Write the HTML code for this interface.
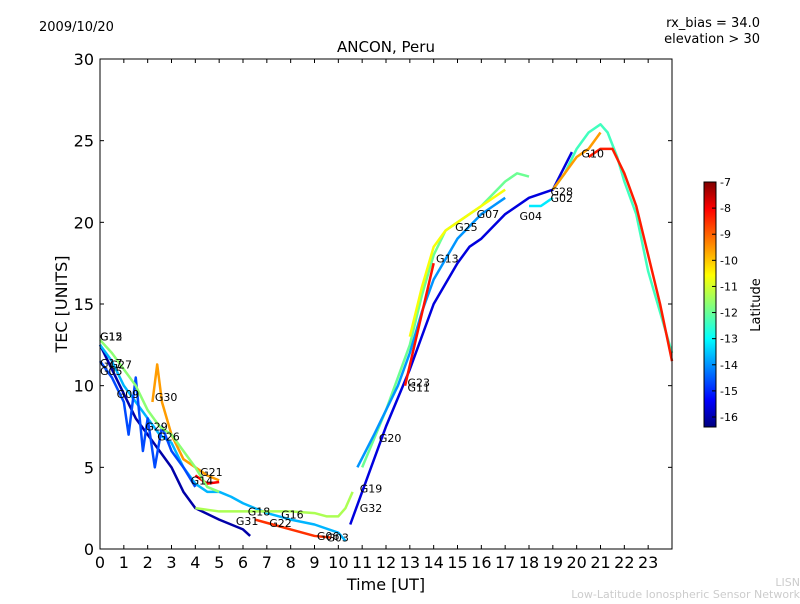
<!DOCTYPE html>
<html><head><meta charset="utf-8">
<style>
body{margin:0;background:#fff;font-family:"DejaVu Sans","Liberation Sans",sans-serif;}
svg text{font-family:"DejaVu Sans","Liberation Sans",sans-serif;}
</style></head>
<body>
<svg id="chart" width="800" height="600" xmlns="http://www.w3.org/2000/svg">
<rect width="800" height="600" fill="#fff"/>
<text x="39" y="31" font-size="13">2009/10/20</text>
<text x="760" y="27" font-size="13" text-anchor="end">rx_bias = 34.0</text>
<text x="760" y="43" font-size="13" text-anchor="end">elevation &gt; 30</text>
<text x="386" y="52" font-size="15" text-anchor="middle">ANCON, Peru</text>
<g id="plot"></g>
<rect x="100" y="59" width="572" height="490" fill="none" stroke="#000" stroke-width="1"/>
<g id="axes"></g>
<text x="386" y="590" font-size="16" text-anchor="middle">Time [UT]</text>
<text x="67" y="304" font-size="16" text-anchor="middle" transform="rotate(-90 67 304)">TEC [UNITS]</text>
<defs><linearGradient id="jet" x1="0" y1="1" x2="0" y2="0">
<stop offset="0" stop-color="#00007f"/><stop offset="0.11" stop-color="#0000ff"/><stop offset="0.36" stop-color="#00ffff"/><stop offset="0.62" stop-color="#ffff00"/><stop offset="0.89" stop-color="#ff0000"/><stop offset="1" stop-color="#7f0000"/></linearGradient></defs>
<rect x="704" y="182" width="12" height="245" fill="url(#jet)" stroke="#000"/>
<g id="cbar"></g>
<text x="760" y="305" font-size="13" text-anchor="middle" transform="rotate(-90 760 305)">Latitude</text>
<text x="800" y="586" font-size="11" fill="#ccc" text-anchor="end">LISN</text>
<text x="800" y="598" font-size="11" fill="#ccc" text-anchor="end">Low-Latitude Ionospheric Sensor Network</text>
</svg>
<script>
const xTicks=[0,1,2,3,4,5,6,7,8,9,10,11,12,13,14,15,16,17,18,19,20,21,22,23];
const yTicks=[0,5,10,15,20,25,30];
const cbTicks=[-7,-8,-9,-10,-11,-12,-13,-14,-15,-16];
const trackTimes=[
[11,12,13,13.5,14,14.5,15,16,17,17.5,18],
[10.5,11,12,13,14,15,15.5,16,17,18,19,19.8],
[19,19.5,20,20.5,21,21.3,21.7,22,22.5,23,23.5,24],
[20.5,21,21.5,22,22.5,23,23.5,24],
[0,0.5,1,1.5,2,2.5,3,3.5,4,5,6,6.3],
[0,0.5,1,1.5,2,2.5,3,3.5,4,4.5,5,5.5,6,7,8,9,10,10.3],
[4,5,6,7,8,9,9.5,10,10.3,10.6],
[2.2,2.4,2.6,3,3.5,4,4.5,5],
[4,4.5,5],
[10.8,11.5,12,12.5,13,13.5,14,15,16,16.5,17],
[12.8,13.2,13.6,14],
[18,18.5,19],
[19,19.5,20,20.5,21],
[6.5,7,7.5,8,9,9.7],
[0,0.5,1,1.2,1.5,1.8,2,2.3,2.6,3,3.5,4],
[13,13.5,14,14.5,15,16,17],
[0,0.5,1,1.5,2,2.5,3,3.5,4,4.5,5]
];
const trackTec=[
[5,8.5,12.5,15.5,18,19.5,20,21,22.5,23,22.8],
[1.5,3.5,7.5,11,15,17.5,18.5,19,20.5,21.5,22,24.3],
[22,23,24.5,25.5,26,25.5,24,22.5,20.5,17,14.5,12],
[24,24.5,24.5,23,21,18,15,11.5],
[12.5,11,9.5,8,7,6,5,3.5,2.5,1.8,1.2,0.8],
[12.5,11.5,10,9,8,7,6.5,5,4,3.5,3.5,3.2,2.8,2.2,1.8,1.5,1,0.5],
[2.5,2.3,2.3,2.3,2.3,2.2,2,2,2.5,3.5],
[9,11.3,9,7,5.5,5,4.5,4.2],
[4.5,4,4.1],
[5,7,8.5,10,12,14.5,16.5,19,20.5,21,21.5],
[10,12.5,15,17.5],
[21,21,21.5],
[22,23,24,24.5,25.5],
[1.8,1.6,1.4,1.2,0.8,0.7],
[11.5,10.5,9,7,10.5,6,8,5,7.5,6,5,3.8],
[13,16,18.5,19.5,20,21,22],
[12.8,12,11,10,8.5,7.5,7,6,5,3.8,3.5]
];
const trackLat=[-11.8,-15.5,-12.2,-8.3,-16,-13.5,-11.2,-9.5,-8,-13.8,-8.2,-13,-9.5,-8.5,-14.5,-10.5,-11.5];
const labelNames=["G15","G12","G17","G27","G05","G09","G30","G29","G26","G14","G21","G31","G18","G22","G16","G06","G03","G32","G19","G20","G23","G11","G13","G25","G07","G04","G28","G02","G10"];
const labelT=[0,0,0,0.4,0,0.7,2.3,1.9,2.4,3.8,4.2,5.7,6.2,7.1,7.6,9.1,9.5,10.9,10.9,11.7,12.9,12.9,14.1,14.9,15.8,17.6,18.9,18.9,20.2];
const labelV=[13,13,11.4,11.3,10.9,9.5,9.3,7.5,6.9,4.2,4.7,1.7,2.3,1.6,2.1,0.8,0.7,2.5,3.7,6.8,10.2,9.9,17.8,19.7,20.5,20.4,21.9,21.5,24.2];
const X=t=>100+t*(572/24), Y=v=>549-v*(490/30);
const CB=l=>182+(-7-l)*(235/9);
function jet(l){let f=(l+16.38)/(-6.85+16.38);f=Math.max(0,Math.min(1,f));
 const c=x=>Math.round(255*Math.max(0,Math.min(1,1.5-Math.abs(4*f-x))));
 return `rgb(${c(3)},${c(2)},${c(1)})`;}
const NS="http://www.w3.org/2000/svg";
function mk(tag,attrs,parent,txt){const e=document.createElementNS(NS,tag);for(const k in attrs)e.setAttribute(k,attrs[k]);if(txt!==undefined)e.textContent=txt;parent.appendChild(e);return e;}
const plot=document.getElementById('plot'),axes=document.getElementById('axes'),cbar=document.getElementById('cbar');
trackTimes.forEach((ts,i)=>{
 const pts=ts.map((t,j)=>X(t)+','+Y(trackTec[i][j])).join(' ');
 const p=mk('polyline',{points:pts,fill:'none',stroke:jet(trackLat[i]),'stroke-width':2.5,'stroke-linejoin':'round'},plot);
 
 
});
labelNames.forEach((n,i)=>{
 const t=mk('text',{x:X(labelT[i]),y:Y(labelV[i])+4,'font-size':11},plot,n);
 
 
});
xTicks.forEach(t=>{
 mk('line',{x1:X(t),x2:X(t),y1:549,y2:545,stroke:'#000'},axes);
 mk('line',{x1:X(t),x2:X(t),y1:59,y2:63,stroke:'#000'},axes);
 const e=mk('text',{x:X(t),y:568,'font-size':16,'text-anchor':'middle'},axes,t);
 
 
});
yTicks.forEach(v=>{
 mk('line',{x1:100,x2:104,y1:Y(v),y2:Y(v),stroke:'#000'},axes);
 mk('line',{x1:672,x2:668,y1:Y(v),y2:Y(v),stroke:'#000'},axes);
 const e=mk('text',{x:94,y:Y(v)+6,'font-size':16,'text-anchor':'end'},axes,v);
 
 
});
cbTicks.forEach(l=>{
 mk('line',{x1:712,x2:716,y1:CB(l),y2:CB(l),stroke:'#000'},cbar);
 const e=mk('text',{x:720,y:CB(l)+4,'font-size':11},cbar,l);
 
 
});
</script>
</body></html>
